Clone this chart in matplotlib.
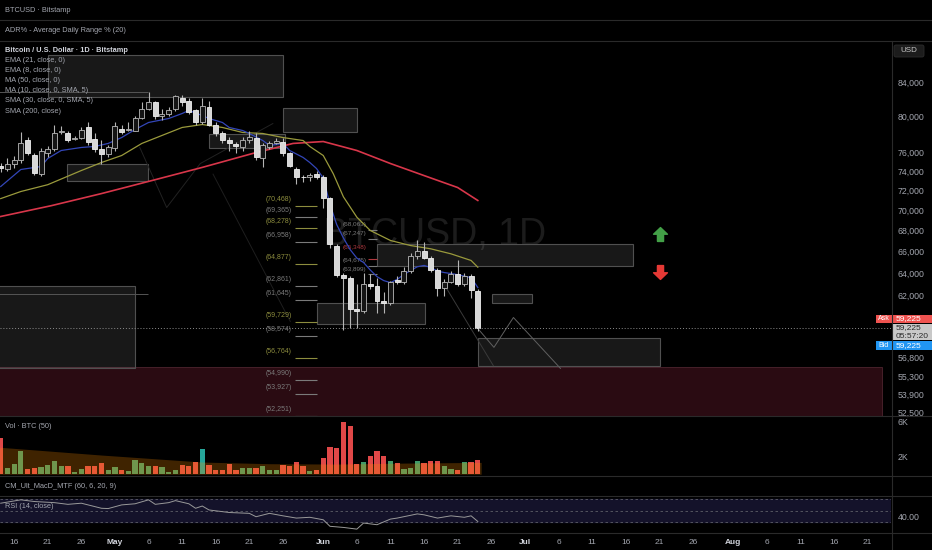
import numpy as np
import matplotlib
matplotlib.use("Agg")
import matplotlib.pyplot as plt
from matplotlib.patches import Rectangle, FancyBboxPatch
from matplotlib.path import Path

plt.rcParams['font.family'] = ['Liberation Sans', 'DejaVu Sans']

# daily candles, day 0 = 14 Apr, day 71 = 24 Jun
opens = [74600, 74200, 74800, 75150, 77400, 75700, 73760, 75900, 76330, 78200,
         78090, 77530, 77640, 78760, 77530, 76330, 75790, 76440, 78640, 78530,
         78420, 79880, 80910, 81610, 80110, 80230, 80800, 82190, 81840, 80690,
         79320, 81030, 79090, 78090, 77420, 76880, 76550, 77420, 77640, 75360,
         76550, 76990, 77200, 75900, 74290, 73450, 73350, 73760, 73450, 71190,
         66580, 63880, 63610, 60870, 60700, 63070, 62890, 61490, 61310, 63430,
         63250, 64250, 65550, 66110, 65450, 64340, 62720, 63250, 63980, 63070,
         63790, 62450]
highs = [74900, 75400, 75600, 78200, 77750, 75900, 76440, 76660, 79090, 78980,
         78310, 77860, 78760, 79320, 78090, 77420, 76770, 79430, 79090, 79430,
         80110, 81720, 82780, 81840, 80800, 81030, 82430, 82430, 82190, 80910,
         82190, 81840, 79320, 78310, 77750, 77200, 77750, 78420, 78090, 77090,
         77310, 77640, 77640, 76110, 74500, 73660, 73870, 74080, 73660, 71290,
         66770, 64070, 63790, 63070, 64070, 63980, 63610, 62280, 63340, 63790,
         64620, 65920, 67060, 66870, 65640, 64530, 63520, 64250, 65180, 64070,
         63980, 62630]
lows = [73900, 74000, 74300, 74900, 75700, 73660, 73550, 75570, 76220, 77980,
        77200, 77420, 77530, 76770, 76110, 74820, 75570, 76220, 77980, 78420,
        78310, 79770, 80690, 79770, 79550, 80000, 80570, 81260, 80230, 79090,
        79200, 78980, 77860, 76990, 76220, 76000, 76220, 77090, 75250, 74400,
        76330, 76880, 75680, 74400, 72720, 72930, 73030, 73240, 70280, 66390,
        63700, 59000, 59250, 59250, 60520, 62630, 60520, 60520, 61140, 63070,
        63070, 64070, 65360, 65270, 64160, 62010, 62010, 63160, 62890, 62890,
        61750, 58920]
closes = [74300, 74800, 75250, 77000, 75950, 73870, 76220, 76330, 78090, 78310,
          77420, 77640, 78530, 77200, 76330, 75790, 76550, 78870, 78200, 78640,
          79880, 80910, 81610, 80000, 80340, 80690, 82310, 81720, 80460, 79320,
          81150, 79090, 78090, 77420, 76990, 76660, 77420, 77750, 75470, 76770,
          76990, 77310, 75950, 74610, 73350, 73350, 73660, 73450, 71190, 66770,
          63880, 63610, 60870, 60700, 63070, 62890, 61490, 61310, 63250, 63250,
          64250, 65550, 66020, 65450, 64340, 62720, 63250, 63980, 63070, 63790,
          62540, 59225]
# volume in thousands of BTC
volumes = [4.14, 0.71, 1.2, 2.6, 0.59, 0.71, 0.78, 1.09, 1.47, 0.97,
           0.89, 0.21, 0.59, 0.89, 0.97, 1.28, 0.51, 0.82, 0.44, 0.32,
           1.58, 1.28, 0.97, 0.97, 0.82, 0.21, 0.51, 1.09, 0.97, 1.43,
           2.91, 1.09, 0.44, 0.44, 1.16, 0.51, 0.71, 0.71, 0.71, 0.97,
           0.51, 0.51, 1.09, 0.89, 1.39, 0.97, 0.32, 0.44, 1.81, 3.1,
           3.0, 5.92, 5.54, 1.2, 1.35, 2.1, 2.6, 2.1, 1.47, 1.28,
           0.59, 0.71, 1.54, 1.28, 1.54, 1.54, 0.89, 0.59, 0.51, 1.39,
           1.35, 1.66]
days = np.arange(len(closes))
spike_days = [30]

vol_ma_days = [-0.5, 15, 30, 40, 50, 60, 71.5]
vol_ma = [3.1, 2.19, 1.39, 1.2, 1.16, 1.27, 1.35]

ema8_days = [0, 3, 6, 7, 9, 12, 14, 16, 18, 20, 22, 25, 27, 28, 30, 31, 33, 34, 36, 37,
             39, 40, 42, 43, 45, 46, 47, 48, 49, 50, 51, 52, 53, 54, 55, 56, 57, 58, 59,
             60, 61, 62, 63, 64, 65, 66, 67, 68, 70, 71]
ema8 = [72410, 74190, 74500, 75360, 76220, 76550, 76660, 76990, 77640, 78530, 79320,
        79770, 80340, 80690, 80110, 79770, 79320, 78760, 78420, 78090, 77310, 76770,
        76990, 76220, 75470, 74930, 74290, 73300, 70600, 68600, 67300, 66200, 65400,
        64990, 64300, 63700, 63340, 63160, 63450, 63900, 64250, 64600, 64720, 64530,
        64200, 64070, 63980, 63880, 63610, 62720]
ema21_days = [0, 3, 7, 12, 15, 18, 21, 24, 27, 30, 33, 36, 39, 42, 45, 46, 48, 49.5,
              51, 53, 55, 58, 61, 64, 67, 70, 71]
ema21 = [71180, 71900, 72600, 74080, 74930, 75680, 76990, 77870, 78760, 79090, 78760,
         78200, 78090, 77640, 77310, 76660, 75680, 73730, 71360, 69320, 68020, 67060,
         66580, 66270, 65800, 65180, 64560]
sma200_days = [0, 7.5, 15, 22.5, 30, 37.5, 43.5, 48, 53, 58, 63, 68, 71]
sma200 = [69390, 70460, 71690, 73030, 74410, 75900, 76990, 77200, 76220, 74820,
          73550, 72310, 70990]

rsi_days = [0, 3, 5, 8, 10, 12, 15, 16, 18, 20, 22, 23, 25, 26, 28, 29, 30, 31, 34, 37,
            38, 40, 42, 44, 46, 48, 49, 51, 53, 54, 56, 58, 59, 62, 63, 65, 67, 69, 70, 71]
rsi = [63, 69, 66, 64, 61, 63, 54, 53.5, 60, 62, 69, 61, 64, 67.6, 62, 54, 58, 51, 46.5,
       45, 39, 45, 40.6, 36.6, 38, 33.6, 22, 20, 17, 27.8, 24.8, 34.8, 36.6, 44, 42.4,
       36.6, 40.6, 38, 40.6, 30.6]

last_price = 59225

fib_a = [70468, 69365, 68278, 66958, 64877, 62861, 61645, 59729, 58574, 56764,
         54990, 53927, 52251]
fib_a_gold = [70468, 68278, 64877, 59729, 56764]
fib_b = [68063, 67247, 65348, 64675, 63899]
fib_b_red = [65348]

# drawn rectangles: day from, day to, price low, price high
boxes = [(7.0, 42.0, 82191, 87254), (42.0, 53.0, 78309, 80915), (9.9, 21.9, 73030, 74823),
         (31.0, 42.3, 76438, 77976), (56.0, 94.1, 64712, 66770), (47.1, 63.1, 59584, 61391),
         (73.1, 79.1, 61391, 62182), (71.0, 98.1, 56130, 58409), (-0.5, 20.0, 55970, 62894)]
zone = (-0.5, 131.1, 40000, 56050)
levels = [(82813, 21.9), (62160, 21.9)]
path_a = ([71.1, 73.4, 76.3, 83.3], [59100, 57600, 60100, 55900])
path_b = ([66.1, 73.3], [62890, 56130])
path_c = ([20.7, 24.7, 29.7, 40.5], [76550, 70280, 74820, 79200])
path_d = ([31.6, 43.1], [73700, 59760])

price_ticks = [84000, 80000, 76000, 74000, 72000, 70000, 68000, 66000, 64000, 62000,
               56800, 55300, 53900, 52500]
date_ticks = [2, 7, 12, 17, 22, 27, 32, 37, 42, 48, 53, 58, 63, 68, 73, 78, 83, 88, 93,
              98, 103, 109, 114, 119, 124, 129]
date_labels = ['16', '21', '26', 'May', '6', '11', '16', '21', '26', 'Jun', '6', '11',
               '16', '21', '26', 'Jul', '6', '11', '16', '21', '26', 'Aug', '6', '11',
               '16', '21']

W, H = 932, 550
TXT = '#a3a6af'
SEP = '#2a2a2a'
FS = 5.3

fig = plt.figure(figsize=(W / 100, H / 100), dpi=100, facecolor='black')


def place(x0, y0, x1, y1):
    return [x0 / W, 1 - y1 / H, (x1 - x0) / W, (y1 - y0) / H]


ax = fig.add_axes(place(0, 40.5, 891, 415.5))
axv = fig.add_axes(place(0, 416, 891, 475), sharex=ax)
axm = fig.add_axes(place(0, 476, 891, 496), sharex=ax)
axr = fig.add_axes(place(0, 496, 891, 533), sharex=ax)
for a in (ax, axv, axm, axr):
    a.set_facecolor('black')
    for s in a.spines.values():
        s.set_visible(False)
    a.tick_params(axis='x', bottom=False, labelbottom=False)
    a.yaxis.tick_right()
    a.tick_params(axis='y', length=0, pad=5, labelsize=6.3, labelcolor=TXT)

ax.set_xlim(-0.104, 132.49)

# ---- price pane ----
ax.set_yscale('log')
ax.set_ylim(52277, 89135)
ax.set_yticks(price_ticks, labels=[f'{t:,}' for t in price_ticks])
ax.minorticks_off()

ax.text(0.488, 0.455, 'BTCUSD, 1D', transform=ax.transAxes, fontsize=27,
        color='#1c1c1c', ha='center', va='baseline', zorder=0.5)

z0, z1, zl, zh = zone
ax.add_patch(Rectangle((z0, zl), z1 - z0, zh - zl, facecolor='#2a0b12',
                       edgecolor='#46202a', lw=0.7, zorder=0.6))
for d0, d1, p0, p1 in boxes:
    ax.add_patch(Rectangle((d0, p0), d1 - d0, p1 - p0, facecolor=(0.6, 0.6, 0.6, 0.16),
                           edgecolor='#505050', lw=0.8, zorder=1))
for p, d1 in levels:
    ax.hlines(p, -0.5, d1, color='#555555', lw=0.7, zorder=1)

ax.plot(*path_c, color='#222222', lw=0.7, zorder=1)
ax.plot(*path_d, color='#1e1e1e', lw=0.7, zorder=1)
ax.plot(*path_b, color='#3a3a3a', lw=0.7, zorder=1)
ax.plot(*path_a, color='#606060', lw=0.7, zorder=1)

# fib labels
for p in fib_a:
    col = '#8d8d3e' if p in fib_a_gold else '#7a7a7a'
    ax.hlines(p, 43.8, 47.1, color=col, lw=0.8, zorder=2)
    ax.annotate(f'({p:,})', (43.35, p), xytext=(0, 4.4), textcoords='offset points',
                ha='right', va='center', fontsize=5.0, color=col, zorder=2)
for p in fib_b:
    col = '#b03a40' if p in fib_b_red else '#7a7a7a'
    lift = 8.2 if p in fib_b_red else 3.9
    ax.hlines(p, 54.7, 56.0, color=col, lw=0.8, zorder=2)
    ax.annotate(f'({p:,})', (54.4, p), xytext=(0, lift), textcoords='offset points',
                ha='right', va='center', fontsize=4.6, color=col, zorder=2)

ax.plot(sma200_days, sma200, color='#d8364a', lw=1.2, zorder=3)
ax.plot(ema21_days, ema21, color='#9a9a3c', lw=0.9, zorder=3)
ax.plot(ema8_days, ema8, color='#3346b8', lw=0.9, zorder=3)

# candles
ax.vlines(days, lows, highs, color='#b4b4b4', lw=0.8, zorder=4)
for d, o, c in zip(days, opens, closes):
    lo, hi = min(o, c), max(o, c)
    hi = max(hi, lo * 1.0012)
    if c >= o:
        face, edge = '#141414', '#b8b8b8'
    else:
        face, edge = '#d8d8d8', '#f0f0f0'
    ax.bar(d, hi - lo, bottom=lo, width=0.74, color=face, edgecolor=edge, lw=0.6, zorder=5)

ax.axhline(last_price, color='#8c8c8c', ls=(0, (1, 2)), lw=0.7, zorder=6)

arrow_up = Path([(-0.22, -0.5), (0.22, -0.5), (0.22, 0.02), (0.5, 0.02), (0, 0.5),
                 (-0.5, 0.02), (-0.22, 0.02), (-0.22, -0.5)])
arrow_dn = Path([(x, -y) for x, y in arrow_up.vertices])
ax.plot([98.1], [67725], marker=arrow_up, ms=10, color='#43a047', ls='none', zorder=6)
ax.plot([98.1], [64162], marker=arrow_dn, ms=10, color='#e53935', ls='none', zorder=6)

# ---- volume pane ----
vcols = []
for d, o, c in zip(days, opens, closes):
    if d in spike_days:
        vcols.append('#26a69a')
    elif c >= o:
        vcols.append('#3f9a68')
    else:
        vcols.append('#e04848')
axv.bar(days, volumes, width=0.78, color=vcols, zorder=2)
axv.fill_between(vol_ma_days, 0, vol_ma, color='#ff8c00', alpha=0.25, lw=0, zorder=3)
axv.set_ylim(-0.09, 6.65)
axv.set_yticks([2, 6], labels=['2K', '6K'])

axm.set_yticks([])

# ---- RSI pane ----
axr.axhspan(30, 70, color='#14122a', zorder=1)
for lv in (70, 50, 30):
    axr.axhline(lv, color='#5c5e66', ls=(0, (3, 3)), lw=0.6, zorder=2)
axr.plot(rsi_days, rsi, color='#9a9a9a', lw=0.7, zorder=3)
axr.set_ylim(10.1, 75.8)
axr.set_yticks([40], labels=['40.00'])
axr.set_xticks(date_ticks, labels=date_labels)
axr.tick_params(axis='x', bottom=False, labelbottom=True, length=0, pad=4,
                labelsize=6.0, labelcolor=TXT)
for lab in axr.get_xticklabels():
    if lab.get_text() in ('May', 'Jun', 'Jul', 'Aug'):
        lab.set_fontweight('bold')
        lab.set_color('#d1d4dc')

# ---- chrome: headers, separators, price tags ----
ov = fig.add_axes([0, 0, 1, 1])
ov.set_xlim(0, W)
ov.set_ylim(H, 0)
ov.axis('off')
ov.patch.set_alpha(0)

for y in (20, 40.5, 415.5, 475.5, 496, 533):
    ov.plot([0, W], [y, y], color=SEP, lw=0.8)
ov.plot([891.5, 891.5], [40.5, H], color=SEP, lw=0.8)

ov.text(5, 10, 'BTCUSD · Bitstamp', fontsize=FS, color=TXT, va='center')
ov.text(5, 30.5, 'ADR% - Average Daily Range % (20)', fontsize=FS, color=TXT, va='center')
ov.text(5, 50.5, 'Bitcoin / U.S. Dollar · 1D · Bitstamp', fontsize=FS, color='#d1d4dc',
        fontweight='bold', va='center')
legend = ['EMA (21, close, 0)', 'EMA (8, close, 0)', 'MA (50, close, 0)',
          'MA (10, close, 0, SMA, 5)', 'SMA (30, close, 0, SMA, 5)', 'SMA (200, close)']
for i, t in enumerate(legend):
    ov.text(5, 60.8 + 10.05 * i, t, fontsize=FS, color=TXT, va='center')
ov.text(5, 426.5, 'Vol · BTC (50)', fontsize=FS, color=TXT, va='center')
ov.text(5, 486, 'CM_Ult_MacD_MTF (60, 6, 20, 9)', fontsize=FS, color=TXT, va='center')
ov.text(5, 506.5, 'RSI (14, close)', fontsize=FS, color=TXT, va='center')

ov.add_patch(FancyBboxPatch((894, 45), 30, 12, boxstyle='round,pad=0,rounding_size=2',
                            facecolor='#1c1c1c', edgecolor='#2c2c2c', lw=0.6))
ov.text(909, 51, 'USD', fontsize=5.8, color='#c8c8c8', ha='center', va='center')

ov.add_patch(Rectangle((876, 314.5), 15.5, 8.5, facecolor='#ef5350', lw=0))
ov.add_patch(Rectangle((891.5, 314.5), 40.5, 8.5, facecolor='#ef5350', lw=0))
ov.text(883.5, 318.8, 'Ask', fontsize=5, color='white', ha='center', va='center')
ov.text(896, 318.8, f'{last_price:,}', fontsize=6.0, color='white', va='center')
ov.add_patch(Rectangle((891.5, 323.5), 40.5, 16.5, facecolor='#c8c8c8', lw=0))
ov.text(896, 328, f'{last_price:,}', fontsize=6.0, color='#2a2a2a', va='center')
ov.text(896, 336, '05:57:20', fontsize=6.0, color='#2a2a2a', va='center')
ov.add_patch(Rectangle((876, 341), 15.5, 8.5, facecolor='#2196f3', lw=0))
ov.add_patch(Rectangle((891.5, 341), 40.5, 8.5, facecolor='#2196f3', lw=0))
ov.text(883.5, 345.3, 'Bid', fontsize=5, color='white', ha='center', va='center')
ov.text(896, 345.3, f'{last_price:,}', fontsize=6.0, color='white', va='center')

fig.savefig('out.png', dpi=100, facecolor='black')
